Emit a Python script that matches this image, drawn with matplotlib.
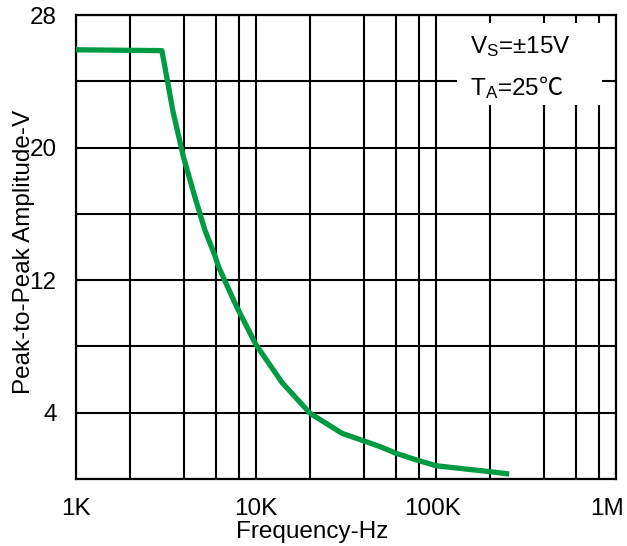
import matplotlib
matplotlib.use("Agg")
import matplotlib.pyplot as plt
import matplotlib.transforms as mtransforms
from matplotlib.ticker import FixedLocator, NullFormatter
from matplotlib.patches import Rectangle

# ---- data ----
freq_hz = [1000, 3000, 3470, 3950, 4580, 5210, 5900, 6200, 7800, 10000,
           14000, 20000, 30000, 49000, 60000, 78000, 100000, 200000, 255000]
amp_v = [25.9, 25.85, 22.1, 19.45, 17.0, 15.0, 13.5, 12.8, 10.4, 8.1,
         5.8, 3.96, 2.76, 1.95, 1.55, 1.15, 0.8, 0.44, 0.3]

x_major = [1e3, 1e4, 1e5, 1e6]
x_major_labels = ["1K", "10K", "100K", "1M"]
x_grid = [m * d for d in (1e3, 1e4, 1e5) for m in (2, 4, 6, 8)]
y_major = [4, 12, 20, 28]
y_grid = [0, 8, 16, 24]

plt.rcParams['font.family'] = ['Liberation Sans', 'Noto Sans CJK SC', 'DejaVu Sans']
plt.rcParams['mathtext.fontset'] = 'custom'
plt.rcParams['mathtext.rm'] = 'Liberation Sans'
plt.rcParams['mathtext.it'] = 'Liberation Sans:italic'
plt.rcParams['mathtext.sf'] = 'Noto Sans CJK SC'

FS = 17.5

fig = plt.figure(figsize=(6.27, 5.46), dpi=100)
ax = fig.add_axes([76/627, 1 - 479/546, 540/627, 464/546])

ax.set_xscale('log')
ax.set_xlim(1e3, 1e6)
ax.set_ylim(0, 28)

ax.xaxis.set_major_locator(FixedLocator(x_major))
ax.set_xticklabels(x_major_labels)
ax.xaxis.set_minor_locator(FixedLocator(x_grid))
ax.xaxis.set_minor_formatter(NullFormatter())
ax.yaxis.set_major_locator(FixedLocator(y_major))
ax.yaxis.set_minor_locator(FixedLocator(y_grid))
ax.yaxis.set_minor_formatter(NullFormatter())

ax.tick_params(axis='both', which='both', length=0, labelsize=FS, colors='black')
ax.tick_params(axis='y', pad=14)
ax.tick_params(axis='x', pad=14)

# shift the last x tick labels slightly left (as in the reference)
lbls = ax.get_xticklabels()
lbls[-1].set_transform(lbls[-1].get_transform() +
                       mtransforms.ScaledTranslation(-9/100, 0, fig.dpi_scale_trans))
lbls[-2].set_transform(lbls[-2].get_transform() +
                       mtransforms.ScaledTranslation(-3/100, 0, fig.dpi_scale_trans))

ax.set_axisbelow(True)
ax.grid(True, which='both', color='black', linewidth=1.5)
for s in ax.spines.values():
    s.set_linewidth(1.6)
    s.set_color('black')

# white label box covering the grid
ax.add_patch(Rectangle((0.7056, 0.806), 0.268, 0.177, transform=ax.transAxes,
                       facecolor='white', edgecolor='none', zorder=1))

ax.plot(freq_hz, amp_v, color='#009944', linewidth=3.8, zorder=3,
        solid_capstyle='butt', solid_joinstyle='round')

ax.text(0.7296, 0.917, r'$\mathregular{V_S}$=±15V', transform=ax.transAxes,
        fontsize=FS, ha='left', va='baseline', zorder=4)
ax.text(0.7296, 0.8276, r'$\mathregular{T_A}$=25$\mathsf{℃}$', transform=ax.transAxes,
        fontsize=FS, ha='left', va='baseline', zorder=4)

ax.set_xlabel('Frequency-Hz', fontsize=FS)
ax.set_ylabel('Peak-to-Peak Amplitude-V', fontsize=FS)
ax.xaxis.set_label_coords(0.437, -0.091)
ax.yaxis.set_label_coords(-0.075, 0.49)

fig.savefig('out.png', dpi=100)
